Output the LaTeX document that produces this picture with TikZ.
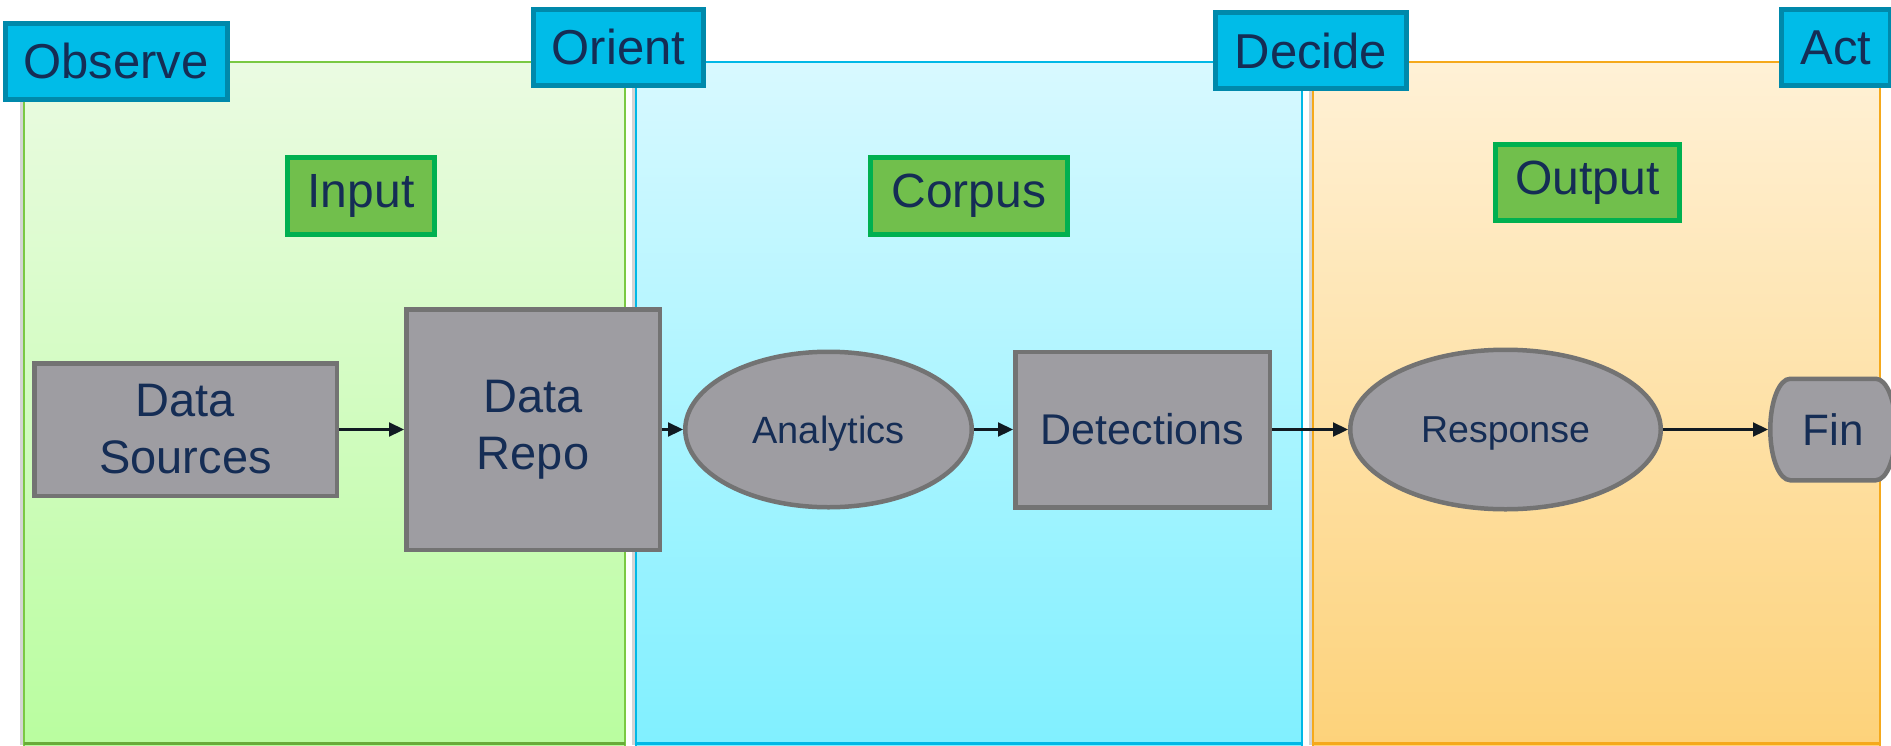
\documentclass[tikz,border=0pt]{standalone}
\usepackage{fontspec}
\setmainfont{Liberation Sans}
\usetikzlibrary{arrows.meta,shapes.geometric}

\definecolor{navy}{HTML}{152D55}
\definecolor{nodefill}{HTML}{9E9DA2}
\definecolor{nodeline}{HTML}{737373}
\definecolor{phasefill}{HTML}{00BCE8}
\definecolor{phaseline}{HTML}{0089AB}
\definecolor{tagfill}{HTML}{71BF4C}
\definecolor{tagline}{HTML}{00B050}
\definecolor{greenedge}{HTML}{7AC943}
\definecolor{greentop}{HTML}{EBFBE2}
\definecolor{greenbot}{HTML}{B9FD9F}
\definecolor{cyanedge}{HTML}{00B8E6}
\definecolor{cyantop}{HTML}{D8F9FF}
\definecolor{cyanbot}{HTML}{80F0FF}
\definecolor{orangeedge}{HTML}{F5A91B}
\definecolor{orangetop}{HTML}{FFF1D6}
\definecolor{orangebot}{HTML}{FDD27A}
\definecolor{arrowcol}{HTML}{111A22}
\definecolor{shadowcol}{HTML}{D4D4D4}

\begin{document}
\begin{tikzpicture}[x=1pt,y=-1pt,
  phase/.style={draw=phaseline, fill=phasefill, line width=5pt, text=navy,
    font=\fontsize{49}{58}\selectfont, inner sep=0pt, minimum height=76pt},
  tag/.style={draw=tagline, fill=tagfill, line width=5pt, text=navy,
    font=\fontsize{48}{58}\selectfont, inner sep=0pt, minimum height=77pt},
  stepnode/.style={draw=nodeline, fill=nodefill, line width=4.5pt, text=navy,
    inner sep=0pt, align=center},
  boxnode/.style={stepnode, rectangle, font=\fontsize{47}{57}\selectfont},
  ovalnode/.style={stepnode, ellipse, text depth=0pt, font=\fontsize{38}{46}\selectfont},
  outline/.style={draw=nodeline, fill=nodefill, line width=4.5pt},
  flow/.style={draw=arrowcol, line width=2.2pt, -{Triangle[length=15pt,width=14pt]}},
  panel/.style={line width=2pt}
]
\useasboundingbox (0,0) rectangle (1891,745);
\fill[white] (0,0) rectangle (1891,745);

% phase panels with soft left shadow
\fill[shadowcol] (20,64) rectangle (24,745);
\fill[shadowcol] (632,64) rectangle (636,745);
\fill[shadowcol] (1309,64) rectangle (1313,745);
\path[panel, draw=greenedge, top color=greentop, bottom color=greenbot] (24,62) rectangle (625,747);
\path[panel, draw=cyanedge, top color=cyantop, bottom color=cyanbot] (636,62) rectangle (1302,747);
\path[panel, draw=orangeedge, top color=orangetop, bottom color=orangebot] (1313,62) rectangle (1880,747);
\fill[greenedge!85!black] (24,742) rectangle (625,745);
\fill[cyanedge] (636,742) rectangle (1302,745);
\fill[orangeedge] (1313,742) rectangle (1880,745);

% OODA phase labels
\node[phase, minimum width=222pt] (observe) at (116,61) {Observe};
\node[phase, minimum width=170pt] (orient) at (618.5,47) {Orient};
\node[phase, minimum width=191pt] (decide) at (1311,50.5) {Decide};
\node[phase, minimum width=109pt] (act) at (1836,47.5) {Act};

% stage tags
\node[tag, minimum width=147pt] (input) at (361,196) {Input};
\node[tag, minimum width=197pt] (corpus) at (969,196) {Corpus};
\node[tag, minimum width=184pt, minimum height=76pt] (output) at (1587.5,182.5) {Output};

% pipeline steps
\node[boxnode, minimum width=302.5pt, minimum height=132.5pt] (sources) at (185.5,429.5) {Data\\Sources};
\node[boxnode, minimum width=253.5pt, minimum height=240.5pt] (repo) at (533,429.5) {Data\\Repo};
\node[ovalnode, minimum width=286.5pt, minimum height=155.5pt] (analytics) at (828.5,429.5) {Analytics};
\node[boxnode, font=\fontsize{43}{52}\selectfont, minimum width=254.5pt, minimum height=155.5pt] (detections) at (1142.5,429.5) {Detections};
\node[ovalnode, font=\fontsize{37.5}{45}\selectfont, minimum width=310.5pt, minimum height=159.5pt] (response) at (1505.5,429.5) {Response};

% terminal step: flat top and bottom, half-elliptic sides
\draw[outline]
  ([shift={(-42.75,-50.75)}]1833,429.5) -- ([shift={(42.75,-50.75)}]1833,429.5)
  arc[start angle=270, end angle=450, x radius=20, y radius=50.75]
  -- ([shift={(-42.75,50.75)}]1833,429.5)
  arc[start angle=90, end angle=270, x radius=20, y radius=50.75] -- cycle;
\node[stepnode, draw=none, fill=none, rectangle, font=\fontsize{44}{52}\selectfont,
  minimum width=125.5pt, minimum height=101.5pt] (fin) at (1833,429.5) {Fin};

% flow
\draw[flow] (sources.east) -- (repo.west);
\draw[flow] (repo.east) -- (analytics.west);
\draw[flow] (analytics.east) -- (detections.west);
\draw[flow] (detections.east) -- (response.west);
\draw[flow] (response.east) -- (fin.west);
\end{tikzpicture}
\end{document}
